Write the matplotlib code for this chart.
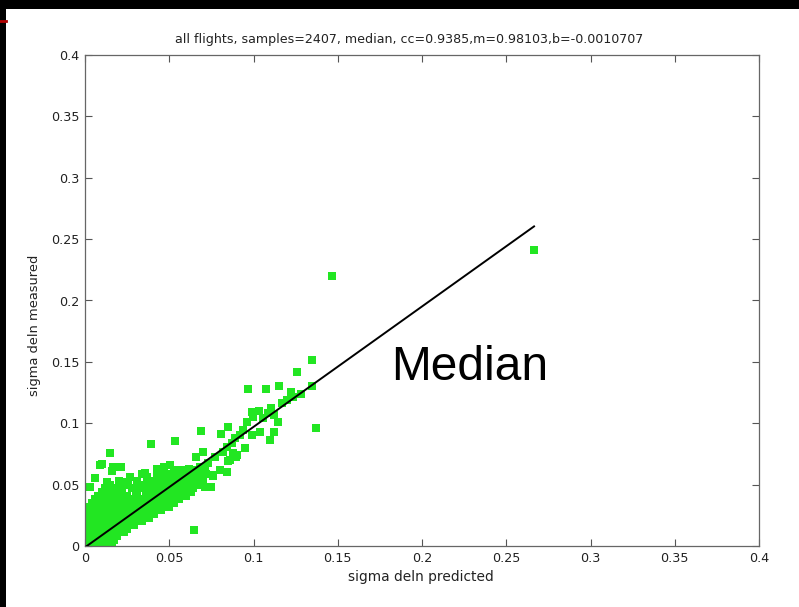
import matplotlib
matplotlib.use("Agg")
import matplotlib.pyplot as plt
from matplotlib.patches import Rectangle
from matplotlib.lines import Line2D

# ---------------- data ----------------
title_text = "all flights, samples=2407, median, cc=0.9385,m=0.98103,b=-0.0010707"
x_label = "sigma deln predicted"
y_label = "sigma deln measured"
annotation = "Median"

fit_m = 0.98103
fit_b = -0.0010707
fit_x_range = [0.0, 0.2665]

ticks = [0, 0.05, 0.1, 0.15, 0.2, 0.25, 0.3, 0.35, 0.4]
tick_labels = ["0", "0.05", "0.1", "0.15", "0.2", "0.25", "0.3", "0.35", "0.4"]

# dense cluster near the origin, read row by row (measured value per row, predicted values)
cluster_meas = [0.002, 0.005, 0.008, 0.011, 0.014, 0.017, 0.020, 0.023, 0.026, 0.029,
                0.032, 0.035, 0.038, 0.041, 0.044, 0.047, 0.050, 0.053, 0.056, 0.059, 0.062]
cluster_pred = [
    [0.001, 0.004, 0.007, 0.010, 0.013, 0.016],
    [0.002, 0.005, 0.008, 0.011, 0.014, 0.017],
    [0.001, 0.004, 0.007, 0.010, 0.013, 0.016, 0.019],
    [0.002, 0.005, 0.008, 0.011, 0.014, 0.017, 0.020, 0.023],
    [0.001, 0.004, 0.007, 0.010, 0.013, 0.016, 0.019, 0.022, 0.025],
    [0.002, 0.005, 0.008, 0.011, 0.014, 0.017, 0.020, 0.023, 0.026, 0.029],
    [0.001, 0.004, 0.007, 0.010, 0.013, 0.016, 0.019, 0.022, 0.025, 0.028, 0.031, 0.034],
    [0.002, 0.005, 0.008, 0.011, 0.014, 0.017, 0.020, 0.023, 0.026, 0.029, 0.032, 0.035, 0.038],
    [0.001, 0.004, 0.007, 0.010, 0.013, 0.016, 0.020, 0.024, 0.027, 0.030, 0.033, 0.036, 0.039, 0.041],
    [0.002, 0.005, 0.008, 0.012, 0.016, 0.020, 0.024, 0.028, 0.031, 0.034, 0.037, 0.040, 0.043, 0.045],
    [0.003, 0.006, 0.010, 0.014, 0.018, 0.022, 0.026, 0.030, 0.033, 0.036, 0.039, 0.042, 0.045, 0.048, 0.050],
    [0.004, 0.008, 0.012, 0.016, 0.020, 0.024, 0.028, 0.032, 0.035, 0.038, 0.041, 0.044, 0.047, 0.050, 0.053],
    [0.006, 0.010, 0.014, 0.019, 0.024, 0.029, 0.034, 0.038, 0.041, 0.044, 0.047, 0.050, 0.053, 0.056],
    [0.008, 0.013, 0.018, 0.025, 0.031, 0.036, 0.040, 0.043, 0.046, 0.049, 0.052, 0.055, 0.058, 0.060],
    [0.010, 0.016, 0.022, 0.030, 0.036, 0.041, 0.045, 0.048, 0.051, 0.054, 0.057, 0.060, 0.063],
    [0.012, 0.020, 0.028, 0.035, 0.041, 0.045, 0.049, 0.052, 0.055, 0.058, 0.061, 0.064],
    [0.015, 0.025, 0.033, 0.040, 0.045, 0.049, 0.053, 0.056, 0.059, 0.062, 0.065, 0.067],
    [0.020, 0.031, 0.038, 0.044, 0.050, 0.054, 0.058, 0.061, 0.064, 0.068],
    [0.027, 0.037, 0.045, 0.050, 0.055, 0.059, 0.063, 0.066, 0.070],
    [0.034, 0.043, 0.050, 0.055, 0.060, 0.064, 0.068, 0.072],
    [0.046, 0.053, 0.058, 0.062, 0.066, 0.071],
]

# scattered individual samples
scatter_pred = [0.0148, 0.0099, 0.0162, 0.0212, 0.0059, 0.0257, 0.0356, 0.0390, 0.0534, 0.0686,
                0.0646, 0.0089, 0.0166, 0.0247, 0.0425, 0.0484, 0.0544, 0.0620, 0.0682, 0.0761,
                0.0722, 0.0860, 0.0895, 0.0030, 0.0129, 0.0188, 0.0306, 0.0603, 0.0642, 0.0682,
                0.0731, 0.0771, 0.0820, 0.0840, 0.0870, 0.0890, 0.0920, 0.0939, 0.0880, 0.0900,
                0.0660, 0.0620, 0.0564, 0.0504, 0.0470, 0.0430, 0.0534, 0.0564, 0.0633, 0.0702,
                0.0750, 0.0800, 0.0840, 0.0959, 0.0998, 0.1057, 0.1087, 0.1120, 0.1196, 0.1235,
                0.1280, 0.1040, 0.1120, 0.0965, 0.1074, 0.1152, 0.1222, 0.1167, 0.0989, 0.1034,
                0.1103, 0.1147, 0.1098, 0.1038, 0.0989, 0.0949, 0.0806, 0.0850, 0.0879, 0.0850,
                0.0698, 0.0761, 0.0712, 0.1256, 0.1345, 0.1345, 0.1369, 0.1466, 0.2665]
scatter_meas = [0.0760, 0.0666, 0.0614, 0.0646, 0.0552, 0.0524, 0.0592, 0.0830, 0.0853, 0.0940,
                0.0130, 0.0660, 0.0646, 0.0524, 0.0524, 0.0565, 0.0592, 0.0620, 0.0592, 0.0579,
                0.0483, 0.0700, 0.0728, 0.0483, 0.0524, 0.0470, 0.0470, 0.0538, 0.0592, 0.0646,
                0.0674, 0.0728, 0.0769, 0.0810, 0.0837, 0.0878, 0.0905, 0.0945, 0.0760, 0.0740,
                0.0728, 0.0630, 0.0620, 0.0660, 0.0640, 0.0630, 0.0538, 0.0483, 0.0470, 0.0538,
                0.0480, 0.0620, 0.0600, 0.1013, 0.1054, 0.1040, 0.1080, 0.1065, 0.1190, 0.1217,
                0.1240, 0.0930, 0.0930, 0.1277, 0.1277, 0.1304, 0.1258, 0.1163, 0.1095, 0.1100,
                0.1127, 0.1013, 0.0864, 0.0932, 0.0905, 0.0796, 0.0913, 0.0972, 0.0728, 0.0690,
                0.0769, 0.0570, 0.0483, 0.1420, 0.1516, 0.1304, 0.0959, 0.2200, 0.2410]

# ---------------- build ----------------
pred = []
meas = []
for yv, row in zip(cluster_meas, cluster_pred):
    for xv in row:
        pred.append(xv)
        meas.append(yv)
pred += scatter_pred
meas += scatter_meas

W, H = 799, 607
fig = plt.figure(figsize=(W / 100, H / 100), dpi=100, facecolor="black")
fig.patches.append(Rectangle((6 / W, 0), 1, (H - 9) / H, transform=fig.transFigure,
                             facecolor="white", edgecolor="none", zorder=-10))
fig.lines.append(Line2D([0, 6 / W], [1 - 21 / H, 1 - 21 / H], transform=fig.transFigure,
                        color="#b00000", lw=2))

left, right, top, bottom = 85, 759, 55, 546
ax = fig.add_axes([left / W, 1 - bottom / H, (right - left) / W, (bottom - top) / H])
ax.set_facecolor("white")

font = "DejaVu Sans"
ax.scatter(pred, meas, marker="s", s=26, color="#22e622", linewidths=0, zorder=2)
fx = fit_x_range
fy = [fit_m * v + fit_b for v in fx]
ax.plot(fx, fy, color="black", lw=1.4, zorder=3)

ax.set_xlim(0, 0.4)
ax.set_ylim(0, 0.4)
ax.set_xticks(ticks)
ax.set_yticks(ticks)
ax.set_xticklabels(tick_labels, fontsize=9.2, family=font, color="#222222")
ax.set_yticklabels(tick_labels, fontsize=9.2, family=font, color="#222222")
ax.tick_params(direction="in", length=5, width=0.8, color="#555555",
               top=True, right=True, pad=4)
for sp in ax.spines.values():
    sp.set_color("#666666")
    sp.set_linewidth(0.9)

fig.text(409.5 / W, 1 - 40 / H, title_text, ha="center", va="center",
         fontsize=9.1, family=font, color="#222222")
fig.text(420.5 / W, 1 - 577 / H, x_label, ha="center", va="center",
         fontsize=9.9, family=font, color="#222222")
fig.text(35 / W, 1 - 325 / H, y_label, ha="center", va="center", rotation=90,
         fontsize=9.4, family=font, color="#222222")

ax.text(0.1816, 0.1353, annotation, ha="left", va="baseline",
        fontsize=34.5, family="Liberation Sans", color="black")

fig.savefig("out.png", dpi=100, facecolor=fig.get_facecolor())
